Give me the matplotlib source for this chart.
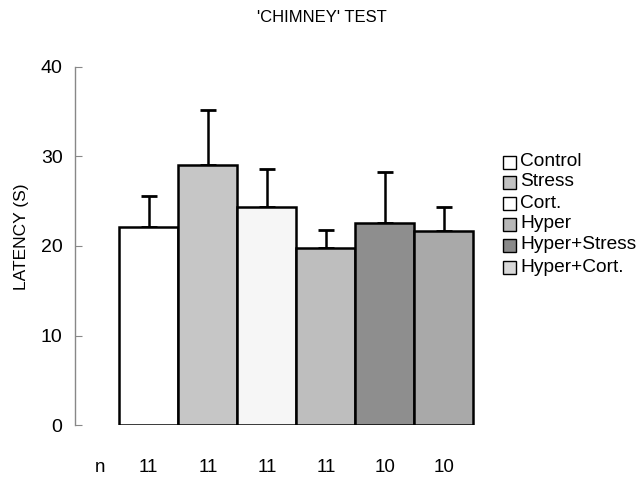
import numpy as np
import matplotlib.pyplot as plt
from matplotlib.patches import Rectangle

plt.rcParams['font.family'] = ['Liberation Sans', 'DejaVu Sans']

# group data
groups = ["Control", "Stress", "Cort.", "Hyper", "Hyper+Stress", "Hyper+Cort."]
means = [22.1, 29.0, 24.4, 19.8, 22.6, 21.7]
sem = [3.5, 6.2, 4.2, 2.0, 5.7, 2.7]
n_values = [11, 11, 11, 11, 10, 10]
colors = ["#ffffff", "#c6c6c6", "#f6f6f6", "#bebebe", "#8e8e8e", "#a9a9a9"]
legend_colors = ["#ffffff", "#c2c2c2", "#ffffff", "#b8b8b8", "#8a8a8a", "#d8d8d8"]

W, H = 643, 480
fig = plt.figure(figsize=(W / 100, H / 100), dpi=100)
ax = fig.add_axes([75 / W, 55 / H, 415 / W, 358 / H])

x = np.arange(len(groups))
ax.bar(x, means, width=1.0, color=colors, edgecolor="black", linewidth=1.8, zorder=2)
ax.errorbar(x, means, yerr=[np.zeros(len(sem)), sem], fmt="none", ecolor="black",
            elinewidth=1.8, capsize=6, capthick=2, zorder=1)

ax.set_xlim(-1.25, 5.78)
ax.set_ylim(0, 40)
ax.set_yticks([0, 10, 20, 30, 40])
ax.tick_params(axis="y", direction="in", length=5, color="#888888", labelsize=14, pad=9)
ax.set_xticks([])
for side in ["top", "right", "bottom"]:
    ax.spines[side].set_visible(False)
ax.spines["left"].set_color("#888888")
ax.spines["left"].set_linewidth(1.0)

fig.text(22 / W, 1 - 237 / H, "LATENCY (S)", fontsize=12.5, rotation=90,
         ha="center", va="center")

# n row under the bars
ax.text(-0.83, -4.7, "n", fontsize=13.5, ha="center", va="center")
for xi, n in zip(x, n_values):
    ax.text(xi, -4.7, str(n), fontsize=13.5, ha="center", va="center")

fig.text(0.5, 1 - 18 / H, "'CHIMNEY' TEST", fontsize=12, ha="center", va="center")

# legend drawn by hand to keep the tight row spacing
row_y = [162, 182, 203, 224, 245, 267]
for label, c, yy in zip(groups, legend_colors, row_y):
    fig.add_artist(Rectangle((503 / W, 1 - (yy + 6.5) / H), 13 / W, 13 / H,
                             facecolor=c, edgecolor="black", linewidth=1.0,
                             transform=fig.transFigure))
    fig.text(520 / W, 1 - yy / H, label, fontsize=13.8, ha="left", va="center")

fig.savefig("out.png", dpi=100)
